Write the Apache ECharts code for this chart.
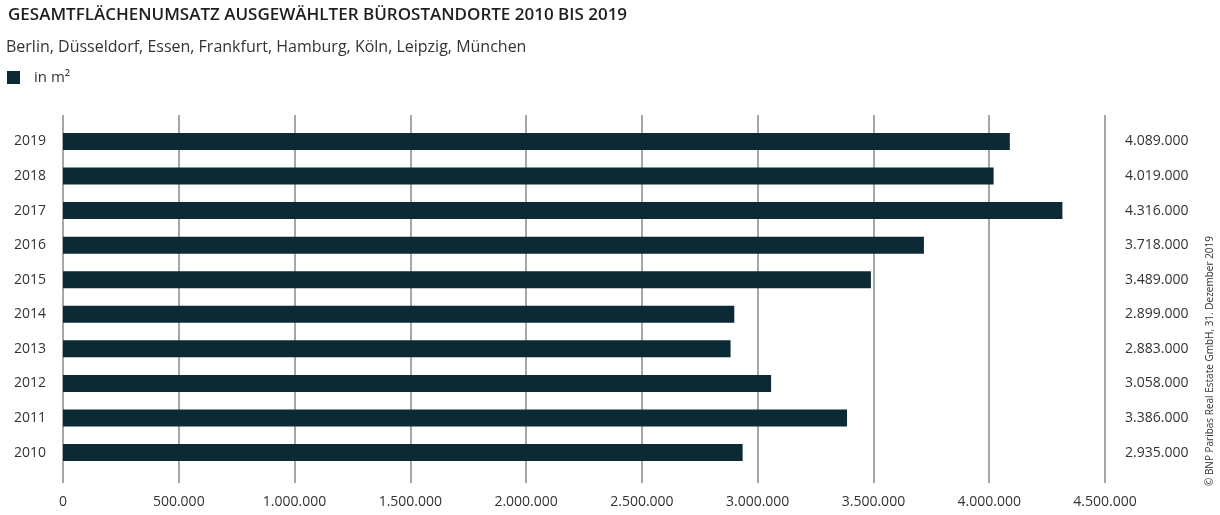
<!DOCTYPE html>
<html>
<head>
<meta charset="utf-8">
<script src="https://cdn.jsdelivr.net/npm/echarts@6/dist/echarts.min.js"></script>
<style>
html,body{margin:0;padding:0;background:#fff;}
#chart{width:1220px;height:515px;}
</style>
</head>
<body>
<div id="chart"></div>
<script>
const years = ['2010','2011','2012','2013','2014','2015','2016','2017','2018','2019'];
const values = [2935000, 3386000, 3058000, 2883000, 2899000, 3489000, 3718000, 4316000, 4019000, 4089000];
const xTicks = [0, 500000, 1000000, 1500000, 2000000, 2500000, 3000000, 3500000, 4000000, 4500000];
const titleText = 'GESAMTFLÄCHENUMSATZ AUSGEWÄHLTER BÜROSTANDORTE 2010 BIS 2019';
const subtitleText = 'Berlin, Düsseldorf, Essen, Frankfurt, Hamburg, Köln, Leipzig, München';
const seriesName = 'in m²';
const sourceText = '© BNP Paribas Real Estate GmbH, 31. Dezember 2019';

function fmt(v){
  return String(v).replace(/\B(?=(\d{3})+(?!\d))/g, '.');
}
const FONT = '"Open Sans", sans-serif';
const chart = echarts.init(document.getElementById('chart'));
chart.setOption({
  animation:false,
  backgroundColor:'#fff',
  title:[
    {text:titleText,left:3,top:2,textStyle:{fontFamily:FONT,fontSize:17,fontWeight:600,color:'#1e1e1e'}},
    {text:subtitleText,left:1,top:34,textStyle:{fontFamily:FONT,fontSize:16,fontWeight:'normal',color:'#333'}}
  ],
  legend:{left:7,top:70,padding:0,itemWidth:13,itemHeight:13,icon:'rect',
    textStyle:{fontFamily:FONT,fontSize:15,color:'#333',padding:[0,0,0,9]},data:[seriesName]},
  grid:[
    {left:63,right:115,top:124.2,bottom:45.2,containLabel:false},
    {left:63,right:115,top:115,bottom:32,containLabel:false}
  ],
  xAxis:[
    {type:'value',gridIndex:0,min:0,max:4500000,interval:500000,
      axisLine:{show:false},axisTick:{show:false},axisLabel:{show:false},splitLine:{show:false}},
    {type:'value',gridIndex:1,min:0,max:4500000,interval:500000,
      axisLine:{show:false},axisTick:{show:false},
      axisLabel:{margin:12,fontFamily:FONT,fontSize:14,color:'#333',formatter:v=>fmt(v)},
      splitLine:{show:true,lineStyle:{color:'#8a8a8a',width:1.5}}}
  ],
  yAxis:[
    {type:'category',gridIndex:0,data:years,
      axisLine:{show:false},axisTick:{show:false},
      axisLabel:{margin:17,fontFamily:FONT,fontSize:14,color:'#333'}},
    {type:'category',gridIndex:0,position:'right',data:years,
      axisLine:{show:false},axisTick:{show:false},
      axisLabel:{margin:20,align:'left',fontFamily:FONT,fontSize:14,color:'#333',
        formatter:(v,i)=>fmt(values[i])}},
    {type:'value',gridIndex:1,show:false,min:0,max:1}
  ],
  series:[
    {name:seriesName,type:'bar',xAxisIndex:0,yAxisIndex:0,data:values,barWidth:17,
      itemStyle:{color:'#0c2a33'}}
  ],
  graphic:[
    {type:'text',x:1210,y:361,rotation:Math.PI/2,
      style:{text:sourceText,fontFamily:FONT,fontSize:10,fill:'#333',align:'center',verticalAlign:'middle'}}
  ]
});
</script>
</body>
</html>
